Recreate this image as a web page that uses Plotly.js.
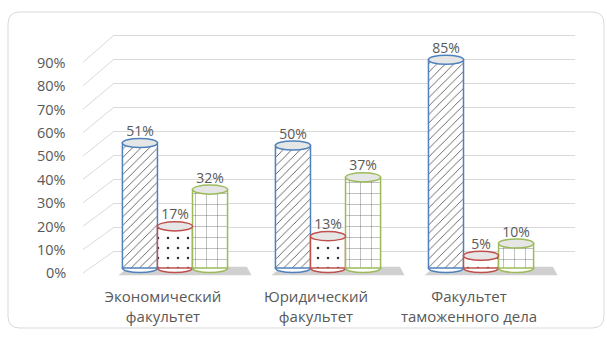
<!DOCTYPE html>
<html>
<head>
<meta charset="utf-8">
<script src="https://cdn.plot.ly/plotly-3.0.1.min.js"></script>
<style>html,body{margin:0;padding:0;background:#fff;}#chart{width:607px;height:339px;}</style>
</head>
<body>
<div id="chart"></div>
<script>
// ---- data ----
const categories = ['Экономический<br>факультет', 'Юридический<br>факультет', 'Факультет<br>таможенного дела'];
const seriesA = [0.51, 0.50, 0.85];
const seriesB = [0.17, 0.13, 0.05];
const seriesC = [0.32, 0.37, 0.10];
const yTickVals = [0, 0.1, 0.2, 0.3, 0.4, 0.5, 0.6, 0.7, 0.8, 0.9];
const yTickText = ['0%', '10%', '20%', '30%', '40%', '50%', '60%', '70%', '80%', '90%'];

// ---- styling ----
const W = 607, H = 339;
const catIdx = categories.map((c, i) => i);
const barW = 0.229;
const seriesDefs = [
  {name: 'Ряд 1', vals: seriesA, color: '#4f81bd', shape: '/', off: -1.5 * barW, psize: 6, solid: 0.14, fg: '#505050'},
  {name: 'Ряд 2', vals: seriesB, color: '#c0504d', shape: '.', off: -0.5 * barW, psize: 10, solid: 0.05, fg: '#333333'},
  {name: 'Ряд 3', vals: seriesC, color: '#9bbb59', shape: '+', off: 0.5 * barW, psize: 11, solid: 0.06, fg: '#444444'}
];
const textColor = '#595959';
const font = 'Open Sans, Liberation Sans, sans-serif';

const traces = seriesDefs.map(s => ({
  type: 'bar',
  name: s.name,
  x: catIdx,
  y: s.vals,
  offset: s.off,
  width: barW,
  marker: {
    color: '#ffffff',
    line: {color: s.color, width: 1.5},
    pattern: {shape: s.shape, fgcolor: s.fg, bgcolor: '#ffffff', size: s.psize, solidity: s.solid}
  },
  text: s.vals.map(v => Math.round(v * 100) + '%'),
  textposition: 'outside',
  textfont: {family: font, size: 14, color: textColor},
  cliponaxis: false,
  showlegend: false,
  hoverinfo: 'skip'
}));

// value-axis labels sit on the front edge of the 3D side wall (slightly lower than the back-wall gridlines)
const frontY = v => (234 * v - 21) / 240;   // expressed on the gridline axis (y3)

const shapes = [];
// rounded chart border
const rx = 12 / W, ry = 12 / H;
const bx0 = 8 / W, bx1 = 604 / W, by0 = 1 - 328 / H, by1 = 1 - 12 / H;
shapes.push({
  type: 'path', xref: 'paper', yref: 'paper', layer: 'below',
  path: `M ${bx0 + rx} ${by1} L ${bx1 - rx} ${by1} Q ${bx1} ${by1} ${bx1} ${by1 - ry} L ${bx1} ${by0 + ry} Q ${bx1} ${by0} ${bx1 - rx} ${by0} L ${bx0 + rx} ${by0} Q ${bx0} ${by0} ${bx0} ${by0 + ry} L ${bx0} ${by1 - ry} Q ${bx0} ${by1} ${bx0 + rx} ${by1} Z`,
  line: {color: '#d9d9d9', width: 1}
});
// slanted gridline connectors (side wall)
yTickVals.forEach(v => {
  shapes.push({
    type: 'line', xref: 'paper', yref: 'y3', layer: 'below',
    x0: 83 / W, x1: 113 / W, y0: frontY(v), y1: v,
    line: {color: '#d9d9d9', width: 1}
  });
});
// floor shadows
catIdx.forEach(i => {
  shapes.push({
    type: 'path', xref: 'x', yref: 'y', layer: 'below',
    path: `M ${i - 0.37} -0.03 L ${i + 0.50} -0.03 L ${i + 0.47} 0.005 L ${i - 0.30} 0.005 Z`,
    fillcolor: 'rgba(120,120,120,0.35)', line: {width: 0}
  });
});
// cylinder ends
const ey = 0.0185;
seriesDefs.forEach(s => {
  s.vals.forEach((v, i) => {
    const x0 = i + s.off, x1 = i + s.off + barW;
    shapes.push({type: 'circle', xref: 'x', yref: 'y', layer: 'below',
      x0: x0, x1: x1, y0: -ey, y1: ey, fillcolor: '#ffffff', line: {color: s.color, width: 1.5}});
    shapes.push({type: 'circle', xref: 'x', yref: 'y', layer: 'above',
      x0: x0, x1: x1, y0: v - ey, y1: v + ey, fillcolor: '#e6e6e6', line: {color: s.color, width: 1.5}});
  });
});

// value-axis tick labels
const annotations = yTickVals.map((v, k) => ({
  xref: 'paper', yref: 'y3', x: 68 / W, y: frontY(v),
  xanchor: 'right', yanchor: 'middle', showarrow: false,
  text: yTickText[k],
  font: {family: font, size: 14.5, color: textColor}
}));

const layout = {
  width: W, height: H,
  margin: {l: 0, r: 0, t: 0, b: 0},
  paper_bgcolor: '#ffffff',
  plot_bgcolor: 'rgba(0,0,0,0)',
  barmode: 'overlay',
  font: {family: font, color: textColor},
  xaxis: {
    domain: [113 / W, 575 / W],
    range: [-0.405, 2.614],
    tickvals: catIdx, ticktext: categories,
    showgrid: false, zeroline: false, showline: false, ticks: '',
    tickfont: {family: font, size: 15, color: textColor},
    ticklabelshift: -12, ticklabelstandoff: 6
  },
  yaxis: {
    domain: [1 - 280 / H, 1 - 23 / H],
    range: [-0.049, 1.0],
    showgrid: false, zeroline: false, showticklabels: false, ticks: ''
  },
  yaxis3: {
    type: 'linear',
    overlaying: 'y', anchor: 'x', side: 'left',
    range: [-0.1167, 0.954],
    tickmode: 'array', tickvals: yTickVals,
    showgrid: true, gridcolor: '#d9d9d9', gridwidth: 1,
    zeroline: false, showticklabels: false, ticks: '', showline: false
  },
  annotations: annotations,
  shapes: shapes
};

Plotly.newPlot('chart', traces, layout, {staticPlot: true, displayModeBar: false});
</script>
</body>
</html>
